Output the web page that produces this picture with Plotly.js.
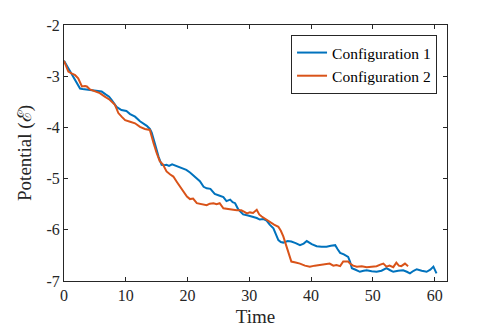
<!DOCTYPE html>
<html>
<head>
<meta charset="utf-8">
<script src="https://cdn.plot.ly/plotly-3.0.1.min.js"></script>
<style>html,body{margin:0;padding:0;background:#fff;}#chart{width:494px;height:327px;}</style>
</head>
<body>
<div id="chart"></div>
<script>
const seriesNames = ["Configuration 1", "Configuration 2"];

const time1 = [0,0.7,1.3,1.8,2.3,2.6,3.0,3.7,4.5,5.2,6.1,6.8,7.3,7.7,8.1,8.5,9.3,10.1,10.7,11.5,12.3,12.8,13.4,13.9,14.2,14.7,15.3,15.8,16.2,16.6,17.0,17.5,18.2,18.7,19.3,19.8,20.4,21.2,22.0,22.6,23.1,23.7,24.4,25.1,25.8,26.3,26.9,27.3,27.7,28.2,29.0,29.8,30.6,31.2,31.7,32.3,32.8,33.3,33.9,34.3,34.7,35.1,35.5,36.2,36.8,37.5,38.2,38.8,39.3,40.1,40.9,41.7,42.5,43.2,43.9,44.3,44.7,45.3,46.0,46.3,46.6,47.2,47.9,48.5,49.0,49.8,50.6,51.4,52.2,52.8,53.3,54.1,54.9,55.5,56.0,56.6,57.1,57.9,58.7,59.3,59.8,60.3];
const potential1 = [-2.70,-2.85,-2.97,-3.07,-3.17,-3.24,-3.25,-3.26,-3.27,-3.28,-3.30,-3.36,-3.40,-3.46,-3.53,-3.60,-3.66,-3.68,-3.74,-3.79,-3.88,-3.92,-3.97,-4.03,-4.10,-4.31,-4.57,-4.73,-4.74,-4.73,-4.75,-4.72,-4.75,-4.78,-4.80,-4.83,-4.88,-4.96,-5.05,-5.16,-5.19,-5.20,-5.30,-5.33,-5.36,-5.44,-5.41,-5.46,-5.48,-5.60,-5.70,-5.72,-5.74,-5.77,-5.80,-5.79,-5.82,-5.90,-5.97,-6.10,-6.20,-6.24,-6.25,-6.22,-6.23,-6.26,-6.30,-6.27,-6.22,-6.28,-6.32,-6.33,-6.33,-6.31,-6.30,-6.38,-6.45,-6.48,-6.53,-6.62,-6.75,-6.78,-6.82,-6.80,-6.79,-6.81,-6.82,-6.80,-6.75,-6.79,-6.82,-6.80,-6.79,-6.82,-6.85,-6.80,-6.77,-6.80,-6.82,-6.78,-6.72,-6.85];

const time2 = [0,0.7,1.3,1.8,2.3,2.9,3.4,3.7,4.2,5.0,5.8,6.6,7.4,8.25,8.8,9.4,9.9,10.7,11.5,12.3,13.1,13.9,14.2,14.5,15.0,15.5,16.0,16.6,17.2,17.7,18.3,18.8,19.4,19.9,20.4,20.9,21.5,22.3,23.1,23.6,24.2,24.7,25.2,25.8,26.6,27.4,28.0,28.7,29.2,29.6,30.1,30.6,31.2,31.6,32.0,32.6,33.3,34.0,34.7,35.1,35.5,36.0,36.4,36.8,37.5,38.2,39.0,39.8,40.6,41.4,42.2,43.0,43.6,44.1,44.7,45.2,46.0,46.3,46.8,47.4,48.2,49.0,49.8,50.6,51.2,51.7,52.2,52.7,53.3,53.8,54.2,54.6,55.2,55.7];
const potential2 = [-2.70,-2.91,-2.95,-2.98,-3.04,-3.20,-3.19,-3.20,-3.26,-3.30,-3.33,-3.40,-3.46,-3.56,-3.72,-3.80,-3.86,-3.89,-3.92,-3.99,-4.03,-4.05,-4.20,-4.31,-4.50,-4.66,-4.72,-4.86,-4.92,-4.96,-5.07,-5.16,-5.25,-5.35,-5.40,-5.39,-5.48,-5.50,-5.52,-5.49,-5.48,-5.50,-5.48,-5.58,-5.60,-5.61,-5.62,-5.62,-5.65,-5.68,-5.66,-5.67,-5.61,-5.70,-5.74,-5.79,-5.85,-5.90,-5.94,-6.02,-6.13,-6.33,-6.50,-6.62,-6.64,-6.66,-6.70,-6.72,-6.70,-6.69,-6.67,-6.66,-6.70,-6.69,-6.71,-6.62,-6.62,-6.66,-6.70,-6.72,-6.71,-6.73,-6.72,-6.71,-6.68,-6.66,-6.72,-6.70,-6.73,-6.64,-6.70,-6.71,-6.66,-6.71];

const xTicks = [0,10,20,30,40,50,60];
const yTicks = [-7,-6,-5,-4,-3,-2];

const font = "'Liberation Serif','DejaVu Serif',serif";
const axisColor = "#262626";

const traces = [
  {x: time1, y: potential1, name: seriesNames[0], type: "scatter", mode: "lines",
   line: {color: "#0072BD", width: 2}},
  {x: time2, y: potential2, name: seriesNames[1], type: "scatter", mode: "lines",
   line: {color: "#D95319", width: 2}}
];

const axisCommon = {
  showline: true, linecolor: axisColor, linewidth: 1, mirror: "ticks",
  ticks: "inside", ticklen: 4, tickcolor: axisColor, tickwidth: 1,
  showgrid: false, zeroline: false,
  tickfont: {family: font, size: 16, color: axisColor}
};

const layout = {
  width: 494, height: 327,
  margin: {l: 64, r: 47, t: 25, b: 46},
  paper_bgcolor: "#fff", plot_bgcolor: "#fff",
  showlegend: true,
  legend: {x: 0.974, y: 0.961, xanchor: "right", yanchor: "top",
    bgcolor: "#fff", bordercolor: axisColor, borderwidth: 1,
    font: {family: font, size: 15.5, color: "#000"}, tracegroupgap: 0},
  xaxis: Object.assign({}, axisCommon, {
    range: [0, 62], tickvals: xTicks, ticktext: xTicks.map(String),
    title: {text: "Time", font: {family: font, size: 19, color: axisColor}, standoff: 7}
  }),
  yaxis: Object.assign({}, axisCommon, {
    range: [-7, -2], tickvals: yTicks, ticktext: yTicks.map(String),
    title: {text: "Potential (ℰ)", font: {family: font, size: 19, color: axisColor}, standoff: 9}
  })
};

Plotly.newPlot("chart", traces, layout, {staticPlot: true, displayModeBar: false});
</script>
</body>
</html>
